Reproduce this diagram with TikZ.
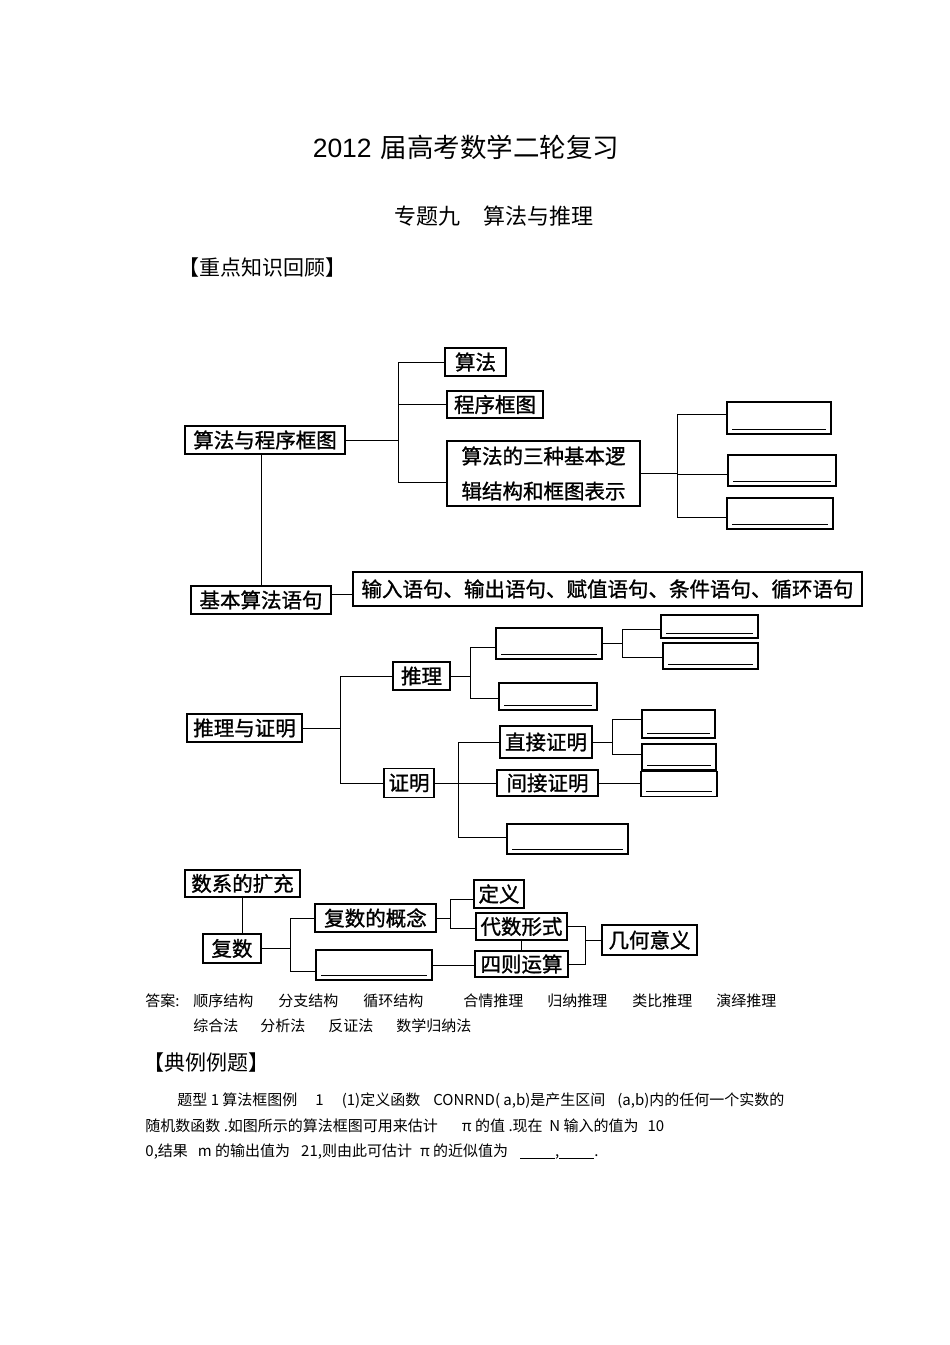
\documentclass[tikz,border=0pt]{standalone}
\usepackage{fontspec}
\setmainfont{Liberation Sans}
\newfontfamily\cjk{Noto Sans CJK SC}
\newfontfamily\cjkb[FakeBold=1.2]{Noto Sans CJK SC}
\usetikzlibrary{positioning, calc}

\begin{document}
\begin{tikzpicture}[x=1pt, y=-1pt, line width=0.9pt,
    box/.style={rectangle, draw, line width=1.2pt, inner sep=1pt, font=\cjkb\fontsize{20.5}{24}\selectfont},
    blank/.style={rectangle, draw, line width=1.2pt, inner sep=0pt,
      path picture={\draw[line width=1pt] ([xshift=5pt,yshift=5pt]path picture bounding box.south west) -- ([xshift=-5pt,yshift=5pt]path picture bounding box.south east);}},
    sz/.style 2 args={minimum width=#1pt, minimum height=#2pt},
    txt/.style={anchor=west, inner sep=0pt, font=\cjk\fontsize{15}{16}\selectfont}]

    \useasboundingbox (0,0) rectangle (950,1345);

    % headings
    \node[font=\cjk\fontsize{26.5}{30}\selectfont] (title) at (466,147) {{\rmfamily 2012}\hspace{9pt}届高考数学二轮复习};
    \node[font=\cjk\fontsize{22}{24}\selectfont] (sub) at (494,216) {专题九\hspace{24pt}算法与推理};
    \node[anchor=west, inner sep=0pt, font=\cjk\fontsize{21}{24}\selectfont] (rev) at (178,268) {【重点知识回顾】};

    % algorithm and flow chart
    \node[box, sz={160}{28}] (sf) at (265,440) {算法与程序框图};
    \node[box, sz={61}{28}] (sa) at (475.5,362) {算法};
    \node[box, sz={96}{27}] (sp) at (495,404.5) {程序框图};
    \node[box, sz={193}{65}, align=left, font=\cjkb\fontsize{20.5}{35}\selectfont] (sj) at (543.5,473.5) {算法的三种基本逻\\辑结构和框图表示};
    \node[blank, sz={104}{32}] (b1) at (779,418) {};
    \node[blank, sz={108}{31}] (b2) at (782,470.5) {};
    \node[blank, sz={106}{31}] (b3) at (780,513.5) {};
    \node[box, sz={140}{28}] (sy) at (261,600) {基本算法语句};
    \node[box, sz={509}{34}] (sl) at (607.5,589) {输入语句、输出语句、赋值语句、条件语句、循环语句};

    \coordinate (j1) at (398,440);
    \coordinate (j2) at (677,473.5);
    \draw (sf.east) -- (j1);
    \draw (j1) |- (sa.west);
    \draw (j1) |- (sp.west);
    \draw (j1) |- ([yshift=-9pt]sj.west);
    \draw (sj.east) -- (j2);
    \draw (j2) |- ([yshift=4pt]b1.west);
    \draw (j2) |- ([yshift=-3.5pt]b2.west);
    \draw (j2) |- ([yshift=-4pt]b3.west);
    \draw (sf.south -| sy.north) -- (sy.north);
    \draw ([yshift=6pt]sy.east) -- ([yshift=6pt]sy.east -| sl.west);

    % reasoning and proof
    \node[box, sz={115}{28}] (tz) at (244.5,728) {推理与证明};
    \node[box, sz={57}{28}] (tl) at (421.5,676) {推理};
    \node[box, sz={50}{29}] (zm) at (409,783) {证明};
    \node[blank, sz={106}{31}] (ba) at (549,643.5) {};
    \node[blank, sz={98}{27}] (bb) at (548,696.5) {};
    \node[blank, sz={97}{23}] (ba1) at (709.5,626.5) {};
    \node[blank, sz={95}{26}] (ba2) at (710.5,656) {};
    \node[box, sz={92}{32}] (zj) at (546,742) {直接证明};
    \node[box, sz={101}{26}] (jj) at (547.5,783) {间接证明};
    \node[blank, sz={121}{30}] (bc) at (567.5,839) {};
    \node[blank, sz={73}{28}] (bd1) at (678.5,724) {};
    \node[blank, sz={74}{26}] (bd2) at (679,757) {};
    \node[blank, sz={76}{25}] (be) at (679,784) {};

    \coordinate (k1) at (340,728);
    \coordinate (k2) at (470,676);
    \coordinate (k3) at (622,643.5);
    \coordinate (k4) at (458,783);
    \coordinate (k5) at (612,742);
    \draw (tz.east) -- (k1);
    \draw (k1) |- (tl.west);
    \draw (k1) |- (zm.west);
    \draw (tl.east) -- (k2);
    \draw (k2) |- ([yshift=-3.5pt]ba.west);
    \draw (k2) |- ([yshift=-2pt]bb.west);
    \draw (ba.east) -- (k3);
    \draw (k3) |- ([yshift=-2.5pt]ba1.west);
    \draw (k3) |- ([yshift=-1pt]ba2.west);
    \draw (zm.east) -- (jj.west);
    \draw (k4) |- (zj.west);
    \draw (k4) |- ([yshift=2pt]bc.west);
    \draw (zj.east) -- (k5);
    \draw (k5) |- ([yshift=5pt]bd1.west);
    \draw (k5) |- ([yshift=3pt]bd2.west);
    \draw (jj.east) -- (jj.east -| be.west);

    % complex numbers
    \node[box, sz={115}{27}] (sx) at (242.5,883.5) {数系的扩充};
    \node[box, sz={58}{29}] (fs) at (232,948.5) {复数};
    \node[box, sz={121}{28}] (fg) at (375.5,918) {复数的概念};
    \node[blank, sz={116}{30}] (bf) at (374,965) {};
    \node[box, sz={50}{28}] (dy) at (499,894) {定义};
    \node[box, sz={91}{27}] (ds) at (521.5,926.5) {代数形式};
    \node[box, sz={93}{26}] (si) at (521.5,964) {四则运算};
    \node[box, sz={95}{30}] (jh) at (649.5,940) {几何意义};

    \coordinate (m1) at (290,948.5);
    \coordinate (m2) at (450,918);
    \coordinate (m3) at (585,940);
    \draw (sx.south) -- (sx.south |- fs.north);
    \draw (fs.east) -- (m1);
    \draw (m1) |- (fg.west);
    \draw (m1) |- ([yshift=-6pt]bf.west);
    \draw (fg.east) -- (m2);
    \draw (m2) |- ([yshift=-5pt]dy.west);
    \draw (m2) |- ([yshift=-2pt]ds.west);
    \draw (bf.east) -- (bf.east -| si.west);
    \draw (ds.south) -- (si.north);
    \draw (ds.east) -| (m3);
    \draw (si.east) -| (m3);
    \draw (m3) -- (jh.west);

    % answers
    \node[txt] (ans) at (145,1001) {答案:};
    \node[txt] (a1) at (193,1001) {顺序结构};
    \node[txt] (a2) at (278,1001) {分支结构};
    \node[txt] (a3) at (363,1001) {循环结构};
    \node[txt] (a4) at (463,1001) {合情推理};
    \node[txt] (a5) at (547,1001) {归纳推理};
    \node[txt] (a6) at (632,1001) {类比推理};
    \node[txt] (a7) at (716,1001) {演绎推理};
    \node[txt] (a8) at (193,1026) {综合法};
    \node[txt] (a9) at (260,1026) {分析法};
    \node[txt] (a10) at (328,1026) {反证法};
    \node[txt] (a11) at (396,1026) {数学归纳法};

    \node[anchor=west, inner sep=0pt, font=\cjk\fontsize{21}{24}\selectfont] (ex) at (143,1063) {【典例例题】};
    \node[txt] (p1) at (177,1101) {题型 1 算法框图例\hspace{18pt}1\hspace{18pt}(1)定义函数\hspace{13pt}CONRND( a,b)是产生区间\hspace{12pt}(a,b)内的任何一个实数的};
    \node[txt] (p2) at (145,1126) {随机数函数 .如图所示的算法框图可用来估计\hspace{24pt}π 的值 .现在 \ N 输入的值为\hspace{9pt}10};
    \node[txt] (p3) at (145,1152) {0,结果\hspace{10pt}m 的输出值为\hspace{11pt}21,则由此可估计\hspace{8pt}π 的近似值为\hspace{12pt}\underline{\hspace{35pt}},\underline{\hspace{35pt}}.};
\end{tikzpicture}
\end{document}
